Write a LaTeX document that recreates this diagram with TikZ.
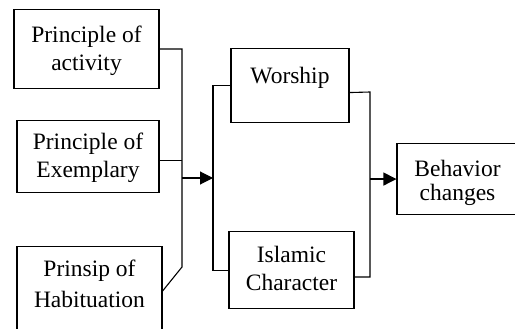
\documentclass[tikz,border=0pt]{standalone}
\usepackage{fontspec}
\setmainfont{Liberation Serif}
\usetikzlibrary{arrows.meta}

\newcommand{\boxfont}{\fontsize{23.5}{28}\selectfont}

\begin{document}
\begin{tikzpicture}[
  x=1pt, y=-1pt,
  box/.style={draw, line width=1.1pt, align=center, anchor=north, inner xsep=0pt, inner ysep=0pt, font=\boxfont},
  link/.style={line width=1.1pt},
  arr/.style={line width=1.1pt, -{Triangle[length=13pt,width=13pt]}}
]
\useasboundingbox (0,0) rectangle (515,329);
\clip (0,0) rectangle (515,329);

% methods
\node[box, minimum width=145pt, text height=61pt, text depth=18pt] (act) at (86.5,9) {Principle of\\activity};
\node[box, minimum width=142pt, text height=57pt, text depth=15pt] (exem) at (88,120) {Principle of\\Exemplary};
\node[box, minimum width=145pt, text height=61pt, text depth=40pt] (hab) at (89.5,246) {Prinsip of\\[3pt]Habituation};

% practices
\node[box, minimum width=118pt, text height=35pt, text depth=39pt] (wor) at (290,48) {Worship};
\node[box, minimum width=125pt, text height=59pt, text depth=18pt] (isl) at (291.5,231) {Islamic\\Character};

% outcome
\node[box, minimum width=121pt, text height=57pt, text depth=14pt] (beh) at (457.5,143) {Behavior\\[-4pt]changes};

\coordinate (jA) at (182,49);
\coordinate (jB) at (182,267);
\coordinate (jM) at (182,178);
\coordinate (kM) at (213,178);
\coordinate (jC) at (370,92);
\coordinate (jD) at (370,277);

\draw[link] (act.east) -- (jA) -- (jB) -- ([yshift=6pt]hab.east);
\draw[link] ([yshift=-4pt]exem.east) -- ([yshift=-4pt]exem.east -| jA);
\draw[arr] (jM) -- (kM);
\draw[link] (wor.west) -- (wor.west -| kM) -- (isl.west -| kM) -- (isl.west);
\draw[link] ([yshift=-7pt]wor.east) -- (jC) -- (jD) -- ([yshift=-7pt]isl.east);
\draw[arr] (jC |- beh.west) -- (beh.west);
\end{tikzpicture}
\end{document}
